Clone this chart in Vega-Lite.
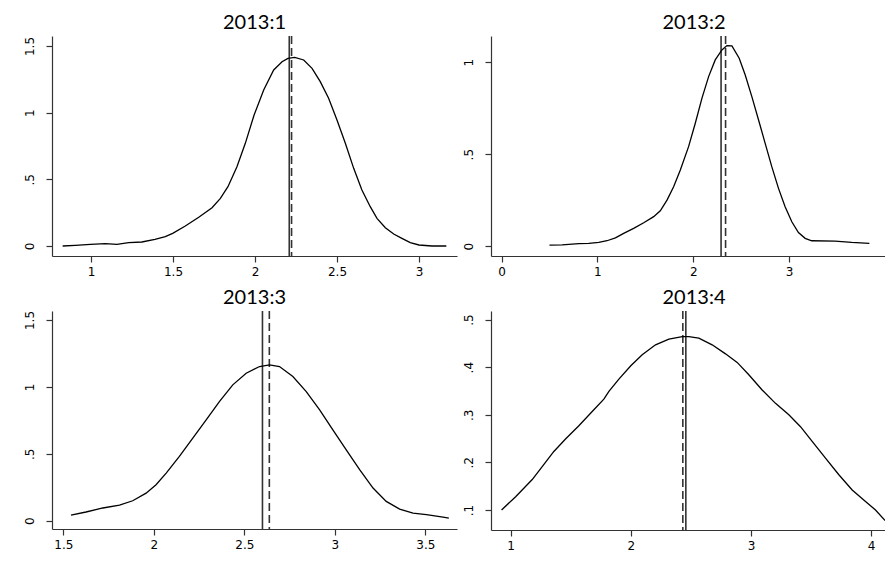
{
  "$schema": "https://vega.github.io/schema/vega-lite/v6.json",
  "background": "#ffffff",
  "padding": {"left": 23, "top": 13, "right": 0, "bottom": 0},
  "bounds": "flush",
  "columns": 2,
  "spacing": {"row": 55, "column": 34},
  "datasets": {
    "c1": [
      {"x": 0.827, "y": 0.0}, {"x": 0.904, "y": 0.005}, {"x": 0.996, "y": 0.0125}, {"x": 1.087, "y": 0.0175},
      {"x": 1.158, "y": 0.0125}, {"x": 1.23, "y": 0.025}, {"x": 1.31, "y": 0.03}, {"x": 1.39, "y": 0.05},
      {"x": 1.453, "y": 0.07}, {"x": 1.498, "y": 0.095}, {"x": 1.575, "y": 0.15}, {"x": 1.657, "y": 0.215},
      {"x": 1.738, "y": 0.2875}, {"x": 1.789, "y": 0.3575}, {"x": 1.835, "y": 0.445}, {"x": 1.89, "y": 0.595},
      {"x": 1.941, "y": 0.77}, {"x": 1.994, "y": 0.98}, {"x": 2.053, "y": 1.17}, {"x": 2.114, "y": 1.32},
      {"x": 2.165, "y": 1.3825}, {"x": 2.201, "y": 1.4075}, {"x": 2.242, "y": 1.415}, {"x": 2.297, "y": 1.395},
      {"x": 2.348, "y": 1.3325}, {"x": 2.398, "y": 1.2325}, {"x": 2.449, "y": 1.1075}, {"x": 2.5, "y": 0.945},
      {"x": 2.551, "y": 0.77}, {"x": 2.602, "y": 0.5825}, {"x": 2.652, "y": 0.42}, {"x": 2.703, "y": 0.295},
      {"x": 2.744, "y": 0.2075}, {"x": 2.795, "y": 0.1375}, {"x": 2.846, "y": 0.09}, {"x": 2.896, "y": 0.0575},
      {"x": 2.947, "y": 0.025}, {"x": 3.0, "y": 0.0075}, {"x": 3.08, "y": 0.0}, {"x": 3.167, "y": 0.0}
    ],
    "c2": [
      {"x": 0.5, "y": 0.005}, {"x": 0.632, "y": 0.007}, {"x": 0.806, "y": 0.013}, {"x": 0.91, "y": 0.015},
      {"x": 1.014, "y": 0.02}, {"x": 1.1, "y": 0.029}, {"x": 1.188, "y": 0.045}, {"x": 1.274, "y": 0.069},
      {"x": 1.378, "y": 0.096}, {"x": 1.483, "y": 0.127}, {"x": 1.587, "y": 0.16}, {"x": 1.656, "y": 0.192},
      {"x": 1.726, "y": 0.25}, {"x": 1.795, "y": 0.323}, {"x": 1.865, "y": 0.414}, {"x": 1.951, "y": 0.541},
      {"x": 2.021, "y": 0.668}, {"x": 2.09, "y": 0.804}, {"x": 2.16, "y": 0.922}, {"x": 2.229, "y": 1.013},
      {"x": 2.299, "y": 1.067}, {"x": 2.351, "y": 1.091}, {"x": 2.403, "y": 1.089}, {"x": 2.479, "y": 1.022},
      {"x": 2.542, "y": 0.931}, {"x": 2.611, "y": 0.813}, {"x": 2.681, "y": 0.686}, {"x": 2.75, "y": 0.559},
      {"x": 2.819, "y": 0.432}, {"x": 2.889, "y": 0.314}, {"x": 2.958, "y": 0.214}, {"x": 3.028, "y": 0.132},
      {"x": 3.097, "y": 0.074}, {"x": 3.167, "y": 0.042}, {"x": 3.236, "y": 0.029}, {"x": 3.479, "y": 0.027},
      {"x": 3.653, "y": 0.02}, {"x": 3.837, "y": 0.015}
    ],
    "c3": [
      {"x": 1.542, "y": 0.042}, {"x": 1.625, "y": 0.065}, {"x": 1.718, "y": 0.095}, {"x": 1.81, "y": 0.117},
      {"x": 1.883, "y": 0.149}, {"x": 1.957, "y": 0.206}, {"x": 2.012, "y": 0.269}, {"x": 2.068, "y": 0.356},
      {"x": 2.141, "y": 0.48}, {"x": 2.215, "y": 0.617}, {"x": 2.289, "y": 0.754}, {"x": 2.363, "y": 0.891},
      {"x": 2.436, "y": 1.015}, {"x": 2.51, "y": 1.102}, {"x": 2.584, "y": 1.152}, {"x": 2.639, "y": 1.164},
      {"x": 2.694, "y": 1.152}, {"x": 2.768, "y": 1.077}, {"x": 2.842, "y": 0.965}, {"x": 2.916, "y": 0.828},
      {"x": 2.989, "y": 0.679}, {"x": 3.063, "y": 0.53}, {"x": 3.137, "y": 0.381}, {"x": 3.211, "y": 0.244},
      {"x": 3.284, "y": 0.144}, {"x": 3.358, "y": 0.087}, {"x": 3.432, "y": 0.057}, {"x": 3.506, "y": 0.045},
      {"x": 3.598, "y": 0.027}, {"x": 3.63, "y": 0.02}
    ],
    "c4": [
      {"x": 0.925, "y": 0.1}, {"x": 1.042, "y": 0.128}, {"x": 1.18, "y": 0.164}, {"x": 1.263, "y": 0.191},
      {"x": 1.36, "y": 0.223}, {"x": 1.457, "y": 0.249}, {"x": 1.568, "y": 0.277}, {"x": 1.679, "y": 0.307},
      {"x": 1.776, "y": 0.333}, {"x": 1.818, "y": 0.349}, {"x": 1.901, "y": 0.375}, {"x": 2.0, "y": 0.403},
      {"x": 2.095, "y": 0.426}, {"x": 2.206, "y": 0.447}, {"x": 2.317, "y": 0.459}, {"x": 2.428, "y": 0.464},
      {"x": 2.483, "y": 0.464}, {"x": 2.566, "y": 0.461}, {"x": 2.677, "y": 0.447}, {"x": 2.788, "y": 0.428},
      {"x": 2.885, "y": 0.41}, {"x": 2.982, "y": 0.384}, {"x": 3.093, "y": 0.352}, {"x": 3.204, "y": 0.324},
      {"x": 3.315, "y": 0.3}, {"x": 3.412, "y": 0.275}, {"x": 3.509, "y": 0.244}, {"x": 3.62, "y": 0.209},
      {"x": 3.731, "y": 0.174}, {"x": 3.842, "y": 0.142}, {"x": 3.953, "y": 0.118}, {"x": 4.036, "y": 0.1},
      {"x": 4.116, "y": 0.078}
    ],
    "v1": [{"x": 2.209, "stat": "mean"}, {"x": 2.223, "stat": "median"}],
    "v2": [{"x": 2.29, "stat": "mean"}, {"x": 2.337, "stat": "median"}],
    "v3": [{"x": 2.6, "stat": "mean"}, {"x": 2.638, "stat": "median"}],
    "v4": [{"x": 2.458, "stat": "mean"}, {"x": 2.433, "stat": "median"}]
  },
  "concat": [
    {
      "width": 405, "height": 220,
      "title": {"text": "2013:1"},
      "layer": [
        {
          "data": {"name": "v1"},
          "mark": {"type": "rule", "color": "#333333", "strokeWidth": 1.6},
          "encoding": {
            "x": {"field": "x", "type": "quantitative", "scale": {"domain": [0.762, 3.232], "nice": false, "zero": false}, "axis": {"values": [1, 1.5, 2, 2.5, 3], "format": "~g", "title": null}},
            "strokeDash": {"field": "stat", "type": "nominal", "scale": {"domain": ["mean", "median"], "range": [[1, 0], [8, 4]]}, "legend": null}
          }
        },
        {
          "data": {"name": "c1"},
          "mark": {"type": "line", "color": "#000000", "strokeWidth": 1.3, "clip": true},
          "encoding": {
            "x": {"field": "x", "type": "quantitative"},
            "y": {"field": "y", "type": "quantitative", "scale": {"domain": [-0.075, 1.575], "nice": false, "zero": false}, "axis": {"values": [0, 0.5, 1, 1.5], "format": "~g", "labelExpr": "datum.value > 0 && datum.value < 1 ? replace(datum.label, '0.', '.') : datum.label", "title": null}}
          }
        }
      ]
    },
    {
      "width": 394, "height": 220,
      "title": {"text": "2013:2", "dx": 6},
      "layer": [
        {
          "data": {"name": "v2"},
          "mark": {"type": "rule", "color": "#333333", "strokeWidth": 1.6},
          "encoding": {
            "x": {"field": "x", "type": "quantitative", "scale": {"domain": [-0.11, 4.0], "nice": false, "zero": false}, "axis": {"values": [0, 1, 2, 3], "format": "~g", "title": null}},
            "strokeDash": {"field": "stat", "type": "nominal", "scale": {"domain": ["mean", "median"], "range": [[1, 0], [8, 4]]}, "legend": null}
          }
        },
        {
          "data": {"name": "c2"},
          "mark": {"type": "line", "color": "#000000", "strokeWidth": 1.3, "clip": true},
          "encoding": {
            "x": {"field": "x", "type": "quantitative"},
            "y": {"field": "y", "type": "quantitative", "scale": {"domain": [-0.054, 1.143], "nice": false, "zero": false}, "axis": {"values": [0, 0.5, 1], "format": "~g", "labelExpr": "datum.value > 0 && datum.value < 1 ? replace(datum.label, '0.', '.') : datum.label", "title": null}}
          }
        }
      ]
    },
    {
      "width": 405, "height": 218,
      "title": {"text": "2013:3"},
      "layer": [
        {
          "data": {"name": "v3"},
          "mark": {"type": "rule", "color": "#333333", "strokeWidth": 1.6},
          "encoding": {
            "x": {"field": "x", "type": "quantitative", "scale": {"domain": [1.437, 3.675], "nice": false, "zero": false}, "axis": {"values": [1.5, 2, 2.5, 3, 3.5], "format": "~g", "title": null}},
            "strokeDash": {"field": "stat", "type": "nominal", "scale": {"domain": ["mean", "median"], "range": [[1, 0], [8, 4]]}, "legend": null}
          }
        },
        {
          "data": {"name": "c3"},
          "mark": {"type": "line", "color": "#000000", "strokeWidth": 1.3, "clip": true},
          "encoding": {
            "x": {"field": "x", "type": "quantitative"},
            "y": {"field": "y", "type": "quantitative", "scale": {"domain": [-0.062, 1.567], "nice": false, "zero": false}, "axis": {"values": [0, 0.5, 1, 1.5], "format": "~g", "labelExpr": "datum.value > 0 && datum.value < 1 ? replace(datum.label, '0.', '.') : datum.label", "title": null}}
          }
        }
      ]
    },
    {
      "width": 394, "height": 219,
      "title": {"text": "2013:4", "dx": 6},
      "layer": [
        {
          "data": {"name": "v4"},
          "mark": {"type": "rule", "color": "#333333", "strokeWidth": 1.6},
          "encoding": {
            "x": {"field": "x", "type": "quantitative", "scale": {"domain": [0.837, 4.115], "nice": false, "zero": false}, "axis": {"values": [1, 2, 3, 4], "format": "~g", "title": null}},
            "strokeDash": {"field": "stat", "type": "nominal", "scale": {"domain": ["mean", "median"], "range": [[1, 0], [8, 4]]}, "legend": null}
          }
        },
        {
          "data": {"name": "c4"},
          "mark": {"type": "line", "color": "#000000", "strokeWidth": 1.3, "clip": true},
          "encoding": {
            "x": {"field": "x", "type": "quantitative"},
            "y": {"field": "y", "type": "quantitative", "scale": {"domain": [0.058, 0.518], "nice": false, "zero": false}, "axis": {"values": [0.1, 0.2, 0.3, 0.4, 0.5], "format": "~g", "labelExpr": "replace(datum.label, '0.', '.')", "title": null}}
          }
        }
      ]
    }
  ],
  "config": {
    "view": {"stroke": null},
    "axis": {
      "grid": false,
      "domainColor": "#333333",
      "tickColor": "#333333",
      "domainWidth": 1.2,
      "tickWidth": 1.2,
      "tickSize": 6,
      "labelFont": "DejaVu Sans",
      "labelFontSize": 12,
      "labelColor": "#000000"
    },
    "axisX": {"labelPadding": 4},
    "axisY": {"labelAngle": 270, "labelAlign": "center", "labelBaseline": "bottom", "labelPadding": 10},
    "title": {"font": "Lato", "fontSize": 20, "fontWeight": "normal", "color": "#000000", "frame": "group", "anchor": "middle", "offset": 2}
  }
}
